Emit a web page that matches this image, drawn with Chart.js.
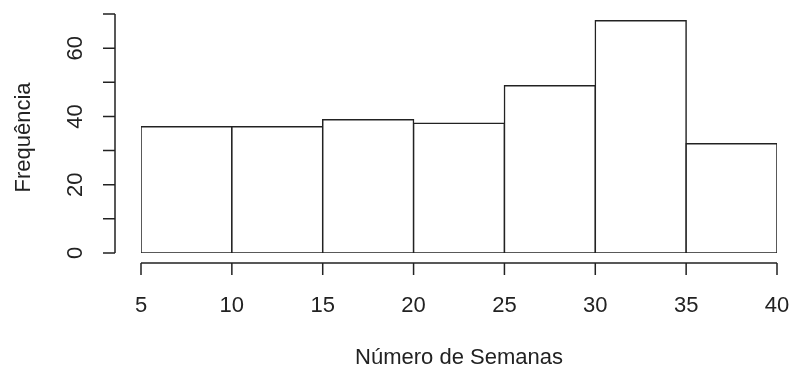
<!DOCTYPE html>
<html>
<head>
<meta charset="utf-8">
<style>
  html, body { margin: 0; padding: 0; background: #fff; }
  #wrap { width: 790px; height: 367px; }
</style>
<script src="https://cdn.jsdelivr.net/npm/chart.js@4/dist/chart.umd.min.js"></script>
</head>
<body>
<div id="wrap"><canvas id="hist" width="790" height="367"></canvas></div>
<script>
// Histogram bins (weeks) and counts
const binEdges = [5, 10, 15, 20, 25, 30, 35, 40];
const counts = [37, 37, 39, 38, 49, 68, 32];

// Axis ticks
const xTicks = [5, 10, 15, 20, 25, 30, 35, 40];
const yTicks = [0, 10, 20, 30, 40, 50, 60, 70];
const yTickLabels = [0, 20, 40, 60];

const xTitle = 'Número de Semanas';
const yTitle = 'Frequência';

const ink = '#222';
const fontFamily = '"Liberation Sans", Arial, sans-serif';
const fontSize = 22;

const points = counts.map((c, i) => ({ x: (binEdges[i] + binEdges[i + 1]) / 2, y: c }));

// R-style detached axes drawn from the chart's own scales
const baseAxes = {
  id: 'baseAxes',
  afterDraw(chart) {
    const { ctx, chartArea } = chart;
    const xs = chart.scales.x, ys = chart.scales.y;
    const tickLen = 12;
    ctx.save();
    ctx.strokeStyle = ink;
    ctx.fillStyle = ink;
    ctx.lineWidth = 1.5;
    ctx.font = fontSize + 'px ' + fontFamily;

    // x axis
    const ay = chartArea.bottom + 10;
    ctx.beginPath();
    ctx.moveTo(xs.getPixelForValue(xTicks[0]), ay);
    ctx.lineTo(xs.getPixelForValue(xTicks[xTicks.length - 1]), ay);
    xTicks.forEach(v => {
      const px = xs.getPixelForValue(v);
      ctx.moveTo(px, ay);
      ctx.lineTo(px, ay + tickLen);
    });
    ctx.stroke();
    ctx.textAlign = 'center';
    ctx.textBaseline = 'alphabetic';
    xTicks.forEach(v => {
      ctx.fillText(String(v), xs.getPixelForValue(v), ay + 49);
    });
    ctx.fillText(xTitle, (chartArea.left + chartArea.right) / 2, chart.height - 3);

    // y axis
    const ax = chartArea.left - 26;
    ctx.beginPath();
    ctx.moveTo(ax, ys.getPixelForValue(yTicks[0]));
    ctx.lineTo(ax, ys.getPixelForValue(yTicks[yTicks.length - 1]));
    yTicks.forEach(v => {
      const py = ys.getPixelForValue(v);
      ctx.moveTo(ax, py);
      ctx.lineTo(ax - tickLen, py);
    });
    ctx.stroke();
    yTickLabels.forEach(v => {
      const py = ys.getPixelForValue(v);
      ctx.save();
      ctx.translate(ax - 33, py);
      ctx.rotate(-Math.PI / 2);
      ctx.textAlign = 'center';
      ctx.textBaseline = 'alphabetic';
      ctx.fillText(String(v), 0, 0);
      ctx.restore();
    });
    ctx.save();
    ctx.translate(30, (ys.getPixelForValue(yTicks[0]) + ys.getPixelForValue(yTicks[yTicks.length - 1])) / 2 + 4);
    ctx.rotate(-Math.PI / 2);
    ctx.textAlign = 'center';
    ctx.fillText(yTitle, 0, 0);
    ctx.restore();

    ctx.restore();
  }
};

new Chart(document.getElementById('hist'), {
  type: 'bar',
  data: {
    datasets: [{
      data: points,
      backgroundColor: '#ffffff',
      borderColor: ink,
      borderWidth: 1.5,
      borderSkipped: false,
      inflateAmount: 0.75,
      barPercentage: 1,
      categoryPercentage: 1,
      grouped: false
    }]
  },
  options: {
    responsive: false,
    animation: false,
    layout: { padding: { left: 141, right: 13, top: 14, bottom: 114 } },
    plugins: { legend: { display: false }, tooltip: { enabled: false } },
    scales: {
      x: { type: 'linear', min: 5, max: 40, offset: false, display: false },
      y: { type: 'linear', min: 0, max: 70, display: false }
    }
  },
  plugins: [baseAxes]
});
</script>
</body>
</html>
